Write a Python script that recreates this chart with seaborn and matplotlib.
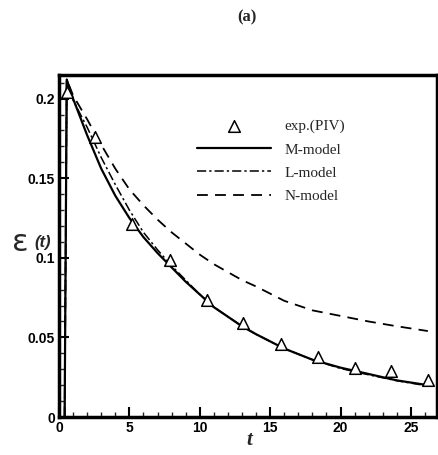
import matplotlib
matplotlib.use("Agg")
import matplotlib.pyplot as plt
import seaborn as sns
import pandas as pd
from matplotlib.ticker import MultipleLocator, FixedLocator

sns.set_theme(style="white")
plt.rcParams['font.family'] = ['Liberation Sans', 'DejaVu Sans']

# experimental data (PIV)
exp_t = [0.6, 2.56, 5.16, 7.9, 10.5, 13.1, 15.8, 18.4, 21.0, 23.6, 26.2]
exp_eps = [0.204, 0.176, 0.121, 0.0986, 0.0735, 0.059, 0.0458, 0.0377, 0.031, 0.029, 0.023]

# model curves
model_t = [0.4, 0.55, 1, 2, 3, 4, 5, 6, 7, 8, 9, 10, 11, 12, 13, 14, 16, 18, 20, 22, 24, 26.2]
m_eps = [0.0, 0.212, 0.200, 0.177, 0.156, 0.139, 0.125, 0.113, 0.103, 0.094, 0.085, 0.077,
         0.069, 0.063, 0.057, 0.052, 0.043, 0.036, 0.031, 0.027, 0.023, 0.020]
l_eps = [0.0, 0.212, 0.199, 0.182, 0.163, 0.146, 0.130, 0.116, 0.105, 0.095, 0.086, 0.077,
         0.069, 0.063, 0.057, 0.052, 0.043, 0.036, 0.0305, 0.0265, 0.0228, 0.0195]
n_eps = [0.0, 0.212, 0.202, 0.187, 0.171, 0.156, 0.143, 0.133, 0.124, 0.116, 0.109, 0.102,
         0.096, 0.091, 0.086, 0.082, 0.073, 0.067, 0.0635, 0.060, 0.057, 0.054]

x_ticks = [0, 5, 10, 15, 20, 25]
y_ticks = [0, 0.05, 0.1, 0.15, 0.2]
y_tick_labels = ["0", "0.05", "0.1", "0.15", "0.2"]

exp_df = pd.DataFrame({"t": exp_t, "eps": exp_eps})
model_df = pd.DataFrame({"t": model_t, "M": m_eps, "L": l_eps, "N": n_eps})

fig = plt.figure(figsize=(4.38, 4.55), dpi=100)
ax = fig.add_axes([0.1347, 0.0835, 0.863, 0.7515])

sns.lineplot(data=model_df, x="t", y="M", ax=ax, color="black", lw=1.6,
             label="M-model", sort=False)
sns.lineplot(data=model_df, x="t", y="L", ax=ax, color="black", lw=1.1,
             label="L-model", sort=False)
ax.lines[-1].set_dashes([6, 2, 1.5, 2])
sns.lineplot(data=model_df, x="t", y="N", ax=ax, color="black", lw=1.3,
             label="N-model", sort=False)
ax.lines[-1].set_dashes([6, 4])
sns.scatterplot(data=exp_df, x="t", y="eps", ax=ax, marker="^", s=70,
                facecolor="white", edgecolor="black", linewidth=1.1,
                label="exp.(PIV)", zorder=5)

ax.set_xlim(0, 26.85)
ax.set_ylim(0, 0.2148)
ax.xaxis.set_major_locator(FixedLocator(x_ticks))
ax.xaxis.set_minor_locator(MultipleLocator(1))
ax.yaxis.set_major_locator(FixedLocator(y_ticks))
ax.yaxis.set_minor_locator(MultipleLocator(0.01))
ax.set_yticklabels(y_tick_labels)
ax.tick_params(which="major", direction="in", length=7, width=1.5,
               labelsize=10, pad=3, colors="black")
ax.tick_params(which="minor", direction="in", length=3.5, width=1.0)
ax.tick_params(bottom=True, left=True, which="both")
for lab in ax.get_xticklabels() + ax.get_yticklabels():
    lab.set_fontweight("bold")
for side in ["left", "right", "top", "bottom"]:
    ax.spines[side].set_color("black")
    ax.spines[side].set_linewidth(2.5)

ax.set_xlabel("")
ax.set_ylabel("")
fig.text(0.568, 0.033, "t", fontsize=15, style="italic", fontweight="bold",
         family="Liberation Serif", ha="center", va="center")
fig.text(0.046, 0.468, "ε", fontsize=22, ha="center", va="center",
         family="DejaVu Sans")
fig.text(0.098, 0.468, "(t)", fontsize=12, style="italic", fontweight="bold",
         ha="center", va="center", family="Liberation Sans")
fig.text(0.564, 0.962, "(a)", fontsize=12, fontweight="bold",
         family="Liberation Serif", ha="center", va="center")

handles, labels = ax.get_legend_handles_labels()
order = [labels.index(k) for k in ["exp.(PIV)", "M-model", "L-model", "N-model"]]
leg = ax.legend([handles[i] for i in order], [labels[i] for i in order],
                loc="upper left", bbox_to_anchor=(0.33, 0.91), frameon=False,
                prop={"family": "Liberation Serif", "size": 11},
                handlelength=4.8, labelspacing=0.62, handletextpad=0.9)

fig.savefig("out.png", dpi=100)
